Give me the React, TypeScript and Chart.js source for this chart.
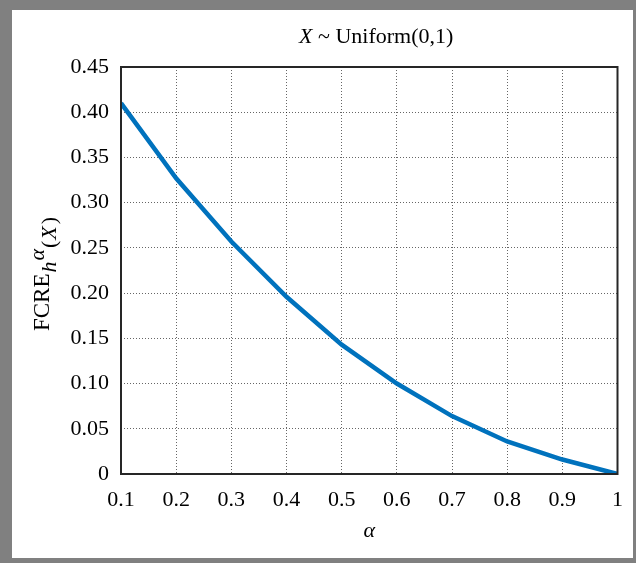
import React, { useEffect, useRef } from "react";
import { Chart, registerables } from "chart.js";

Chart.register(...registerables);

const alphaValues = [0.1, 0.2, 0.3, 0.4, 0.5, 0.6, 0.7, 0.8, 0.9, 1.0];
const fcreValues = [0.41, 0.327, 0.257, 0.196, 0.143, 0.1, 0.064, 0.036, 0.016, 0.0];
const xTickValues = [0.1, 0.2, 0.3, 0.4, 0.5, 0.6, 0.7, 0.8, 0.9, 1.0];
const xTickLabels = ["0.1", "0.2", "0.3", "0.4", "0.5", "0.6", "0.7", "0.8", "0.9", "1"];
const yTickValues = [0, 0.05, 0.1, 0.15, 0.2, 0.25, 0.3, 0.35, 0.4, 0.45];
const yTickLabels = ["0", "0.05", "0.10", "0.15", "0.20", "0.25", "0.30", "0.35", "0.40", "0.45"];

const FONT = "'Liberation Serif', 'Times New Roman', serif";
const W = 636;
const H = 563;

const decorPlugin = {
  id: "decor",
  beforeDraw(chart: any) {
    const ctx = chart.ctx;
    ctx.save();
    ctx.fillStyle = "#808080";
    ctx.fillRect(0, 0, W, H);
    ctx.fillStyle = "#ffffff";
    ctx.fillRect(12, 10, 621, 548);
    ctx.restore();
  },
  afterDraw(chart: any) {
    const ctx = chart.ctx;
    const a = chart.chartArea;
    // box
    ctx.save();
    ctx.strokeStyle = "#262626";
    ctx.lineWidth = 2;
    ctx.strokeRect(a.left, a.top, a.right - a.left, a.bottom - a.top);
    ctx.restore();

    const cx = (a.left + a.right) / 2;
    // title
    ctx.save();
    ctx.fillStyle = "#000";
    ctx.textBaseline = "middle";
    const tParts = [
      { t: "X", f: `italic 22px ${FONT}` },
      { t: " ~ Uniform(0,1)", f: `22px ${FONT}` },
    ];
    let tw = 0;
    for (const p of tParts) {
      ctx.font = p.f;
      tw += ctx.measureText(p.t).width;
    }
    let x = cx + 7 - tw / 2;
    for (const p of tParts) {
      ctx.font = p.f;
      ctx.fillText(p.t, x, 37);
      x += ctx.measureText(p.t).width;
    }
    ctx.restore();

    // x label
    ctx.save();
    ctx.fillStyle = "#000";
    ctx.textAlign = "center";
    ctx.textBaseline = "middle";
    ctx.font = `italic 22px ${FONT}`;
    ctx.fillText("\u03b1", cx, 531);
    ctx.restore();

    // y label
    ctx.save();
    ctx.fillStyle = "#000";
    ctx.textBaseline = "middle";
    ctx.translate(43, 274);
    ctx.rotate(-Math.PI / 2);
    const parts = [
      { t: "FCRE", f: `23px ${FONT}`, dy: 0, gap: 1 },
      { t: "h", f: `italic 22px ${FONT}`, dy: 7, gap: 1 },
      { t: "\u03b1", f: `italic 22px ${FONT}`, dy: -5, gap: 1 },
      { t: "(", f: `22px ${FONT}`, dy: 7, gap: 1 },
      { t: "X", f: `italic 22px ${FONT}`, dy: 7, gap: 2 },
      { t: ")", f: `22px ${FONT}`, dy: 7, gap: 0 },
    ];
    let w = 0;
    for (const p of parts) {
      ctx.font = p.f;
      w += ctx.measureText(p.t).width + p.gap;
    }
    let px = -w / 2;
    for (const p of parts) {
      ctx.font = p.f;
      ctx.fillText(p.t, px, p.dy);
      px += ctx.measureText(p.t).width + p.gap;
    }
    ctx.restore();
  },
};

export default function App() {
  const ref = useRef<HTMLCanvasElement | null>(null);
  useEffect(() => {
    if (!ref.current) return;
    const chart = new Chart(ref.current, {
      type: "line",
      data: {
        datasets: [
          {
            data: alphaValues.map((a, i) => ({ x: a, y: fcreValues[i] })),
            borderColor: "#0072BD",
            borderWidth: 4.5,
            pointRadius: 0,
            tension: 0,
            fill: false,
          },
        ],
      },
      options: {
        responsive: false,
        animation: false,
        layout: { padding: { left: 0, top: 67, right: 16, bottom: 0 } },
        plugins: {
          legend: { display: false },
          tooltip: { enabled: false },
          title: { display: false },
        },
        scales: {
          x: {
            type: "linear",
            min: 0.1,
            max: 1,
            afterBuildTicks: (s: any) => {
              s.ticks = xTickValues.map((v) => ({ value: v }));
            },
            afterFit: (s: any) => {
              s.height = 89;
            },
            ticks: {
              autoSkip: false,
              maxRotation: 0,
              padding: 13,
              color: "#000",
              font: { family: FONT, size: 22 },
              callback: (_v: any, i: number) => xTickLabels[i],
            },
            grid: { color: "rgba(0,0,0,0.6)", lineWidth: 1, drawTicks: false },
            border: { display: false, dash: [1, 2] },
          },
          y: {
            type: "linear",
            min: 0,
            max: 0.45,
            afterBuildTicks: (s: any) => {
              s.ticks = yTickValues.map((v) => ({ value: v }));
            },
            afterFit: (s: any) => {
              s.width = 121;
            },
            ticks: {
              autoSkip: false,
              padding: 12,
              color: "#000",
              font: { family: FONT, size: 22 },
              callback: (_v: any, i: number) => yTickLabels[i],
            },
            grid: { color: "rgba(0,0,0,0.6)", lineWidth: 1, drawTicks: false },
            border: { display: false, dash: [1, 2] },
          },
        },
      },
      plugins: [decorPlugin],
    });
    return () => chart.destroy();
  }, []);
  return (
    <div style={{ position: "absolute", left: 0, top: 0, width: W, height: H }}>
      <canvas ref={ref} width={W} height={H} style={{ display: "block", width: W, height: H }} />
    </div>
  );
}
